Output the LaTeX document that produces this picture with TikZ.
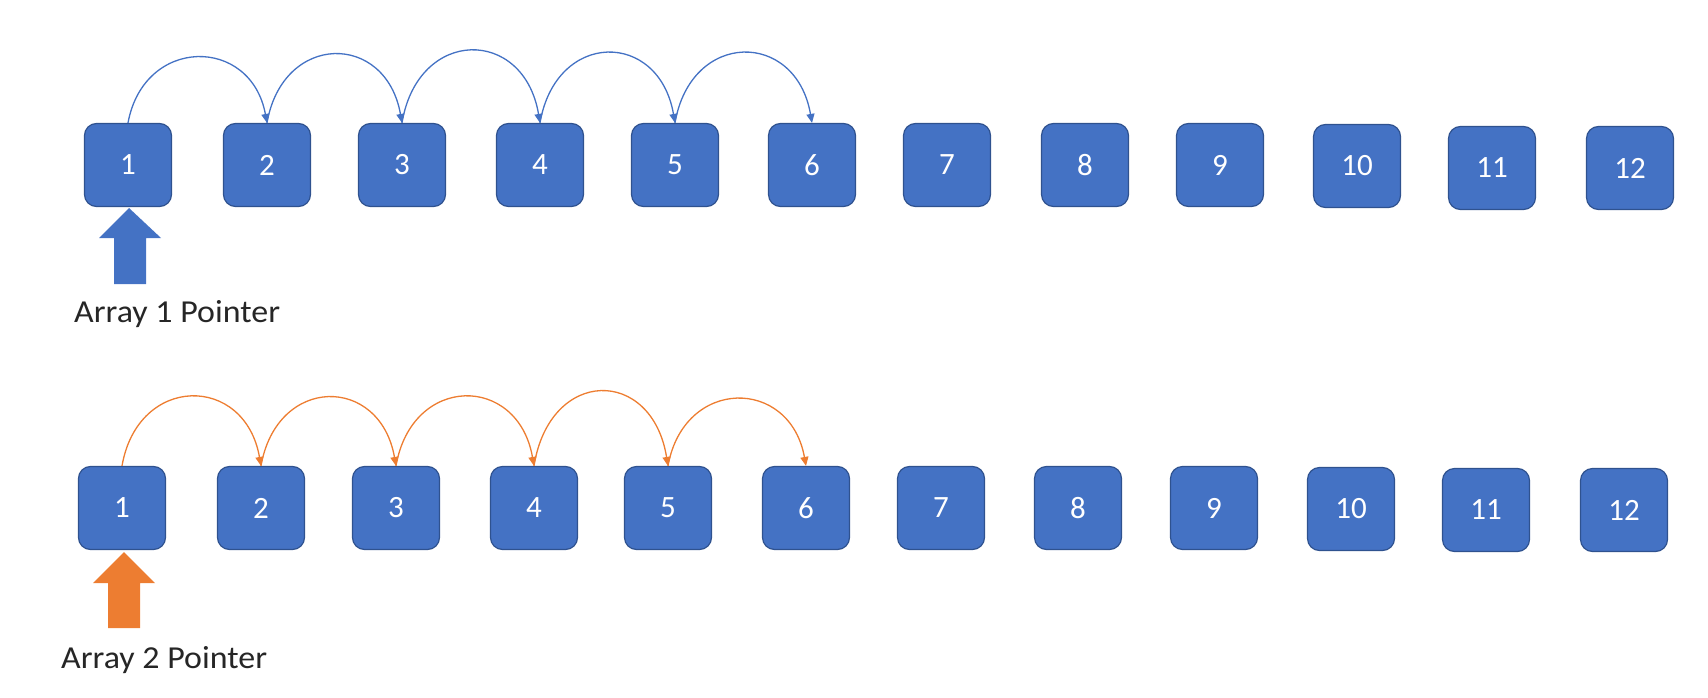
\documentclass[tikz,border=0pt]{standalone}
\usepackage{fontspec}
\setmainfont{Carlito}
\newfontfamily\labelfont[FakeStretch=1.06]{Carlito}
\usetikzlibrary{arrows.meta}
\definecolor{boxblue}{HTML}{4472C4}
\definecolor{boxedge}{HTML}{2F528F}
\definecolor{arcorange}{HTML}{ED7D31}
\begin{document}
\begin{tikzpicture}[x=1pt,y=-1pt,
  cell/.style={rectangle,rounded corners=12pt,fill=boxblue,draw=boxedge,line width=1.2pt,
    minimum width=87pt,minimum height=83pt,inner sep=0pt,text=white,
    font=\fontsize{31}{35}\selectfont},
  hop/.style={line width=1.3pt,-{Triangle[length=9pt,width=8pt]}},
  ptrlabel/.style={font=\labelfont\fontsize{32}{36}\selectfont,text=black!85,anchor=base west,inner sep=0pt}]
\useasboundingbox (0,0) rectangle (1708,698);
% top row
\foreach \i/\x/\y in {1/128/165,2/267/165,3/402/165,4/540/165,5/675/165,6/812/165,
  7/947/165,8/1085/165,9/1220/165,10/1357/166,11/1492/168,12/1630/168}
  \node[cell] (a\i) at (\x,\y) {\i};
% bottom row
\foreach \i/\x/\y in {1/122/508,2/261/508,3/396/508,4/534/508,5/668/508,6/806/508,
  7/941/508,8/1078/508,9/1214/508,10/1351/509,11/1486/510,12/1624/510}
  \node[cell] (b\i) at (\x,\y) {\i};
% top hops
\draw[hop,boxblue] (a1.north) .. controls +(16,-87) and +(-16,-87) .. (a2.north);
\draw[hop,boxblue] (a2.north) .. controls +(16,-91) and +(-16,-91) .. (a3.north);
\draw[hop,boxblue] (a3.north) .. controls +(16,-96) and +(-16,-96) .. (a4.north);
\draw[hop,boxblue] (a4.north) .. controls +(16,-93) and +(-16,-93) .. (a5.north);
\draw[hop,boxblue] (a5.north) .. controls +(16,-93) and +(-16,-93) .. (a6.north);
% bottom hops
\draw[hop,arcorange] (b1.north) .. controls +(16,-92) and +(-16,-92) .. (b2.north);
\draw[hop,arcorange] (b2.north) .. controls +(16,-91) and +(-16,-91) .. (b3.north);
\draw[hop,arcorange] (b3.north) .. controls +(16,-92) and +(-16,-92) .. (b4.north);
\draw[hop,arcorange] (b4.north) .. controls +(16,-99) and +(-16,-99) .. (b5.north);
\draw[hop,arcorange] (b5.north) .. controls +(16,-89) and +(-16,-89) .. (b6.north);
% pointers
\fill[boxblue] (129,208) -- (161,238) -- (146,238) -- (146,284) -- (114,284) -- (114,238) -- (99,238) -- cycle;
\fill[arcorange] (124,552) -- (155,583) -- (140,583) -- (140,628) -- (108,628) -- (108,583) -- (93,583) -- cycle;
\node[ptrlabel] (p1) at (74,322) {Array 1 Pointer};
\node[ptrlabel] (p2) at (61,668) {Array 2 Pointer};
\end{tikzpicture}
\end{document}
